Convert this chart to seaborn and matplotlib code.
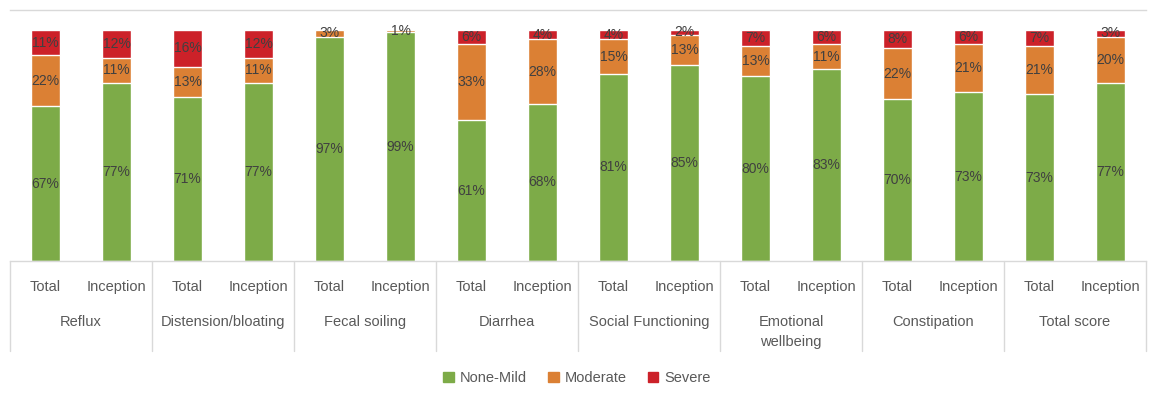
import pandas as pd
import matplotlib.pyplot as plt
import matplotlib.transforms as mtransforms
from matplotlib.patches import Patch
import seaborn as sns

# values (percent)
groups = ['Reflux', 'Distension/bloating', 'Fecal soiling', 'Diarrhea',
          'Social Functioning', 'Emotional\nwellbeing', 'Constipation', 'Total score']
subgroups = ['Total', 'Inception']
none_mild = [67, 77, 71, 77, 97, 99, 61, 68, 81, 85, 80, 83, 70, 73, 73, 77]
moderate = [22, 11, 13, 11, 3, 1, 33, 28, 15, 13, 13, 11, 22, 21, 21, 20]
severe = [11, 12, 16, 12, 0, 0, 6, 4, 4, 2, 7, 6, 8, 6, 7, 3]

c_green = '#7dab48'
c_orange = '#db8034'
c_red = '#cc2129'
txt_col = '#595959'
line_col = '#d9d9d9'

sns.set_style('white')
plt.rcParams['font.family'] = ['Liberation Sans', 'DejaVu Sans']

keys = [f'{g}|{s}' for g in groups for s in subgroups]
data = pd.DataFrame({'key': keys, 'none': none_mild, 'mod': moderate, 'sev': severe})
tot = data['none'] + data['mod'] + data['sev']
# 100% stacked: normalise each bar
data['c1'] = data['none'] / tot * 100
data['c2'] = (data['none'] + data['mod']) / tot * 100
data['c3'] = 100.0

fig = plt.figure(figsize=(11.54, 4.0), dpi=100)
ax = fig.add_axes([10 / 1154, 139 / 400, 1136 / 1154, 251 / 400])

for col, colr in [('c3', c_red), ('c2', c_orange), ('c1', c_green)]:
    sns.barplot(data=data, x='key', y=col, order=keys, color=colr,
                saturation=1, width=0.42, ax=ax, errorbar=None)

ax.set_ylim(0, 100 * 251 / 231)
ax.set_xlim(-0.5, len(keys) - 0.5)
ax.set_yticks([])
ax.set_xlabel('')
ax.set_ylabel('')
ax.set_xticks(range(len(keys)))
ax.set_xticklabels([k.split('|')[1] for k in keys], color=txt_col, fontsize=10.5)
ax.tick_params(axis='x', length=0, pad=14)
for s in ['left', 'right']:
    ax.spines[s].set_visible(False)
for s in ['top', 'bottom']:
    ax.spines[s].set_color(line_col)
    ax.spines[s].set_linewidth(1)

# segment labels
for i, row in data.iterrows():
    segs = [(0, row['c1'], row['none']), (row['c1'], row['c2'], row['mod']),
            (row['c2'], row['c3'], row['sev'])]
    for lo, hi, v in segs:
        if v > 0:
            ax.text(i, (lo + hi) / 2, f'{v}%', ha='center', va='center',
                    fontsize=10, color='#404040')

# group labels and separators under the axis
trans = mtransforms.blended_transform_factory(ax.transData, ax.transAxes)
for j, g in enumerate(groups):
    ax.text(2 * j + 0.5, -0.217, g, transform=trans, ha='center', va='top',
            fontsize=10.5, color=txt_col, linespacing=1.5)
for b in range(len(groups) + 1):
    ax.plot([2 * b - 0.5, 2 * b - 0.5], [0, -0.36], transform=trans,
            color=line_col, lw=1, clip_on=False)

handles = [Patch(color=c_green, label='None-Mild'),
           Patch(color=c_orange, label='Moderate'),
           Patch(color=c_red, label='Severe')]
leg = fig.legend(handles=handles, loc='center', bbox_to_anchor=(0.5, 0.055), ncol=3,
                 frameon=False, handlelength=0.7, handleheight=0.7,
                 handletextpad=0.4, columnspacing=1.5, fontsize=10.5)
for t in leg.get_texts():
    t.set_color(txt_col)

fig.savefig('out.png', dpi=100)
